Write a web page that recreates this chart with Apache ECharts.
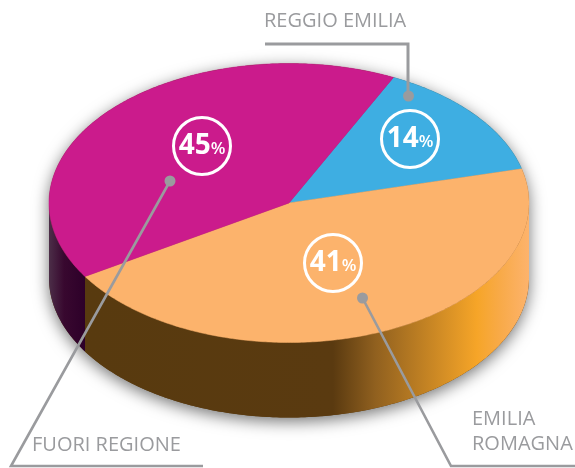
<!DOCTYPE html>
<html>
<head>
<meta charset="utf-8">
<style>html,body{margin:0;padding:0;background:#fff}#c{width:575px;height:468px}</style>
<script src="https://cdn.jsdelivr.net/npm/echarts@6/dist/echarts.min.js"></script>
</head>
<body>
<div id="c"></div>
<script>
// Data
const categories = ['REGGIO EMILIA', 'EMILIA ROMAGNA', 'FUORI REGIONE'];
const printedPercent = [14, 41, 45];       // numbers printed in the circles
const drawnShare = [13.9, 45.1, 41.0];     // share of the pie each slice really occupies in the picture

// Layout and style
const pie = { cx: 289, cy: 203, rx: 240, ry: 139.5, depth: 75, startDeg: 25.8 };
const topColors = ['#3eaee2', '#fcb36c', '#cb1b8c'];
const FONT = '"Open Sans","Noto Sans",sans-serif';
const GREY = '#9a9b9e';
const callouts = [
  { circle: [410, 139], dot: [408.5, 96], path: [[265, 44], [408, 44], [408, 96]], width: 3,
    text: [['REGGIO EMILIA', 264, 21]] },
  { circle: [333, 263], dot: [362.5, 298], path: [[362.5, 298], [451, 466], [575, 466]], width: 2.6,
    text: [['EMILIA', 472, 419.5], ['ROMAGNA', 472, 444.5]] },
  { circle: [202, 146], dot: [170, 181], path: [[170, 181], [11, 466], [203, 466]], width: 2.6,
    text: [['FUORI REGIONE', 32, 445]] }
];

const total = drawnShare.reduce((a, b) => a + b, 0);
const toDeg = v => v / total * 360;
const pt = (deg, dy) => {
  const r = deg * Math.PI / 180;
  return [pie.cx + pie.rx * Math.sin(r), pie.cy - pie.ry * Math.cos(r) + (dy || 0)];
};
const arc = (a, b, dy) => {
  const n = Math.max(2, Math.ceil(Math.abs(b - a) * 1.5)), out = [];
  for (let i = 0; i <= n; i++) out.push(pt(a + (b - a) * i / n, dy));
  return out;
};
const startOf = i => pie.startDeg + drawnShare.slice(0, i).reduce((s, v) => s + toDeg(v), 0);
const seriesData = drawnShare.map((v, i) => ({ name: categories[i], value: [v, printedPercent[i]] }));

const grad = (stops) => ({
  type: 'linear', x: pie.cx - pie.rx, y: 0, x2: pie.cx + pie.rx, y2: 0, global: true,
  colorStops: stops.map(s => ({ offset: (s[0] - (pie.cx - pie.rx)) / (2 * pie.rx), color: s[1] }))
});
const orangeSide = grad([[85, '#583a0f'], [333, '#5a3a10'], [375, '#90601f'], [477, '#f6a528'], [500, '#f8aa48'], [529, '#fdb36c']]);
const purpleSide = grad([[49, '#4c2e48'], [64, '#38082f'], [85, '#2d0029']]);

const option = {
  animation: false,
  backgroundColor: '#fff',
  series: [
    { // silhouette with soft shadow
      type: 'custom', coordinateSystem: 'none', silent: true, z: 1,
      data: [[0]],
      renderItem: () => ({
        type: 'polygon',
        shape: { points: arc(-90, 90, 0).concat(arc(90, 270, pie.depth)) },
        style: { fill: '#5a3a10', shadowBlur: 16, shadowColor: 'rgba(0,0,0,0.55)', shadowOffsetX: 0, shadowOffsetY: 4 }
      })
    },
    { // outer wall
      type: 'custom', coordinateSystem: 'none', silent: true, z: 2,
      data: seriesData,
      renderItem: (p) => {
        const a = Math.max(startOf(p.dataIndex), 90);
        const b = Math.min(startOf(p.dataIndex) + toDeg(drawnShare[p.dataIndex]), 270);
        if (b <= a) return { type: 'group', children: [] };
        return {
          type: 'polygon',
          shape: { points: arc(a, b, 0).concat(arc(b, a, pie.depth)) },
          style: { fill: p.dataIndex === 1 ? orangeSide : purpleSide }
        };
      }
    },
    { // top face
      type: 'custom', coordinateSystem: 'none', silent: true, z: 3,
      data: seriesData,
      renderItem: (p, api) => {
        const a = startOf(p.dataIndex), b = a + toDeg(api.value(0));
        return {
          type: 'polygon',
          shape: { points: [[pie.cx, pie.cy]].concat(arc(a, b, 0)) },
          style: { fill: topColors[p.dataIndex], stroke: topColors[p.dataIndex], lineWidth: 0.5 }
        };
      }
    },
    { // percent circles, leader lines and names
      type: 'custom', coordinateSystem: 'none', silent: true, z: 4,
      data: seriesData,
      renderItem: (p, api) => {
        const c = callouts[p.dataIndex];
        const children = [
          { type: 'circle', shape: { cx: c.circle[0], cy: c.circle[1], r: 28.5 },
            style: { fill: 'none', stroke: '#fff', lineWidth: 3 } },
          { type: 'text',
            style: { x: c.circle[0], y: c.circle[1] + 0.5, align: 'center', verticalAlign: 'middle',
              text: '{n|' + api.value(1) + '}{p|%}',
              rich: {
                n: { fontFamily: FONT, fontSize: 28, fontWeight: 700, fill: '#fff' },
                p: { fontFamily: FONT, fontSize: 17, fontWeight: 600, fill: '#fff', padding: [6, 0, 0, 0] }
              } } },
          { type: 'polyline', shape: { points: c.path },
            style: { fill: 'none', stroke: GREY, lineWidth: c.width, lineJoin: 'miter' } },
          { type: 'circle', shape: { cx: c.dot[0], cy: c.dot[1], r: 5.5 }, style: { fill: GREY } }
        ];
        c.text.forEach(t => children.push({
          type: 'text',
          style: { text: t[0], x: t[1], y: t[2], align: 'left', verticalAlign: 'middle',
            fontFamily: FONT, fontSize: 20, fontWeight: 400, fill: GREY }
        }));
        return { type: 'group', children };
      }
    }
  ]
};
echarts.init(document.getElementById('c'), null, { renderer: 'canvas' }).setOption(option);
</script>
</body>
</html>
